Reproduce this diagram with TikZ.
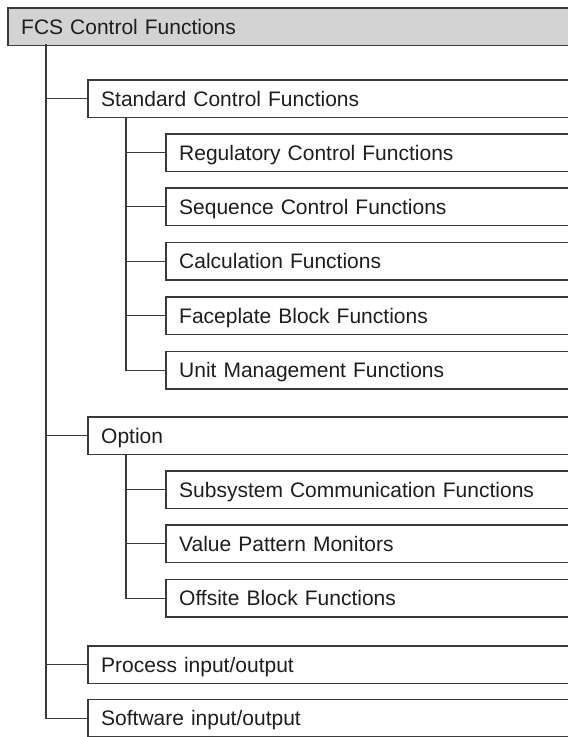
\documentclass[tikz,border=0pt]{standalone}
\usepackage{fontspec}
\setmainfont{Liberation Sans}
\definecolor{linec}{HTML}{3A3A3A}
\definecolor{textc}{HTML}{1E1E1E}
\definecolor{headfill}{HTML}{D3D3D3}
\begin{document}
\begin{tikzpicture}[x=1pt,y=-1pt,
  box/.style={anchor=north west, inner xsep=13pt, inner ysep=0pt,
    minimum height=37pt, text height=15pt, text depth=0pt, align=left,
    text=textc, font=\fontsize{21}{25}\selectfont},
  lvl0/.style={box, text width=536pt},
  lvl1/.style={box, text width=456pt},
  lvl2/.style={box, text width=378pt},
  frame/.style={draw=linec, line width=1.2pt},
  conn/.style={draw=linec, line width=1.2pt}]
\useasboundingbox (0,0) rectangle (568,737);

\node[lvl0] (fcs) at (8,8) {FCS Control Functions};
\node[lvl1] (std) at (88,80) {Standard Control Functions};
\node[lvl2] (reg) at (166,134) {Regulatory Control Functions};
\node[lvl2] (seq) at (166,188) {Sequence Control Functions};
\node[lvl2] (calc) at (166,242.5) {Calculation Functions};
\node[lvl2] (face) at (166,297) {Faceplate Block Functions};
\node[lvl2] (unit) at (166,351.5) {Unit Management Functions};
\node[lvl1] (opt) at (88,417) {Option};
\node[lvl2] (sub) at (166,471) {Subsystem Communication Functions};
\node[lvl2] (val) at (166,525) {Value Pattern Monitors};
\node[lvl2] (off) at (166,579.5) {Offsite Block Functions};
\node[lvl1] (proc) at (88,646) {Process input/output};
\node[lvl1] (soft) at (88,699.5) {Software input/output};

% header box (filled, open on the right)
\fill[headfill] (fcs.north west) rectangle (fcs.south east);
\node[lvl0] at (8,8) {FCS Control Functions};
\draw[frame] (fcs.north east) -- (fcs.north west) -- (fcs.south west) -- (fcs.south east);
\foreach \n in {std,reg,seq,calc,face,unit,opt,sub,val,off,proc,soft}{
  \draw[frame] (\n.north east) -- (\n.north west) -- (\n.south west) -- (\n.south east);
}

% trunks
\coordinate (t0) at (46,44);
\coordinate (t1) at (126,117);
\coordinate (t2) at (126,454);

\draw[conn] (t0) |- (soft.west);
\foreach \n in {std,opt,proc}{ \draw[conn] (t0 |- \n.west) -- (\n.west); }

\draw[conn] (t1) |- (unit.west);
\foreach \n in {reg,seq,calc,face}{ \draw[conn] (t1 |- \n.west) -- (\n.west); }

\draw[conn] (t2) |- (off.west);
\foreach \n in {sub,val}{ \draw[conn] (t2 |- \n.west) -- (\n.west); }
\end{tikzpicture}
\end{document}
